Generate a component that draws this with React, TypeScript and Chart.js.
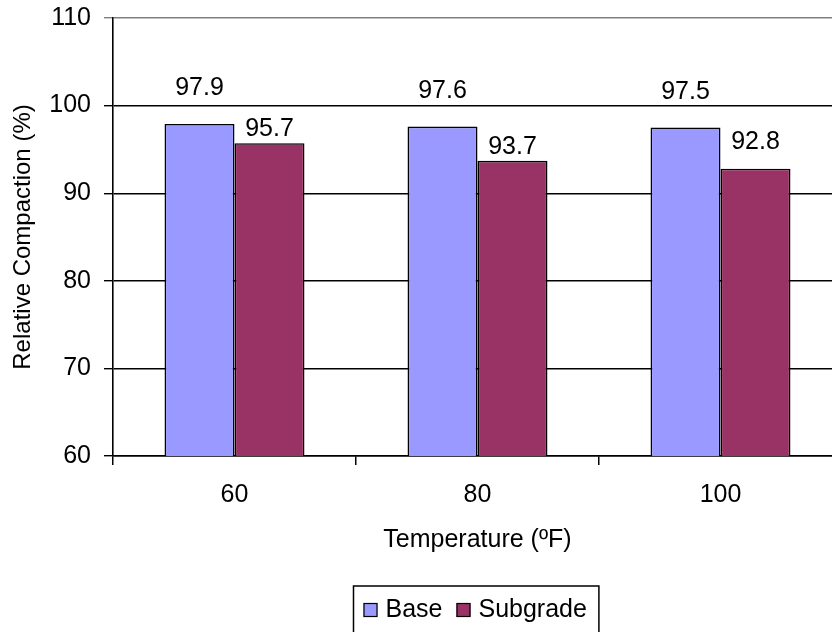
import React, { useEffect, useRef } from "react";
import { Chart, registerables } from "chart.js";

Chart.register(...registerables);

// ---- data ----
const categories = ["60", "80", "100"];
const seriesNames = ["Base", "Subgrade"];
const baseValues = [97.9, 97.6, 97.5];
const subgradeValues = [95.7, 93.7, 92.8];
const yTickValues = [60, 70, 80, 90, 100, 110];

// ---- styles ----
const FONT = '"Liberation Sans", Arial, Helvetica, sans-serif';
const FONT_SIZE = 25;
const COLORS = ["#9999FF", "#993366"];
// pixel lift of each value label baseline above its bar top (as placed in the original)
const LABEL_LIFT = [
  [29, 29, 29],
  [7, 7, 20],
];

export default function App() {
  const ref = useRef<HTMLCanvasElement>(null);

  useEffect(() => {
    const canvas = ref.current;
    if (!canvas) return;

    const labelPlugin = {
      id: "valueLabels",
      afterDatasetsDraw(chart: any) {
        const ctx = chart.ctx;
        ctx.save();
        ctx.font = `${FONT_SIZE}px ${FONT}`;
        ctx.fillStyle = "#000";
        ctx.textAlign = "center";
        ctx.textBaseline = "alphabetic";
        chart.data.datasets.forEach((ds: any, di: number) => {
          const meta = chart.getDatasetMeta(di);
          meta.data.forEach((el: any, i: number) => {
            const v = ds.data[i] as number;
            ctx.fillText(v.toFixed(1), el.x, el.y - LABEL_LIFT[di][i]);
          });
        });
        ctx.restore();
      },
    };

    const legendPlugin = {
      id: "boxLegend",
      afterDraw(chart: any) {
        const ctx = chart.ctx;
        const area = chart.chartArea;
        ctx.save();
        ctx.font = `${FONT_SIZE}px ${FONT}`;
        const sq = 14;
        const padL = 10;
        const gapSq = 8;
        const gapItem = 14;
        const padR = 12;
        const widths = chart.data.datasets.map((d: any) => ctx.measureText(d.label).width);
        let total = padL;
        widths.forEach((w: number, i: number) => {
          total += sq + gapSq + w + (i < widths.length - 1 ? gapItem : 0);
        });
        total += padR;
        const cx = (area.left + area.right) / 2 - 1.5;
        const left = Math.round(cx - total / 2) + 0.5;
        const top = 586;
        ctx.strokeStyle = "#000";
        ctx.lineWidth = 1.5;
        ctx.strokeRect(left, top, total, 70);
        let x = left + padL;
        const baseY = 617;
        chart.data.datasets.forEach((d: any, i: number) => {
          ctx.fillStyle = d.backgroundColor;
          ctx.fillRect(x, 603, sq, sq);
          ctx.lineWidth = 1.2;
          ctx.strokeStyle = "#000";
          ctx.strokeRect(x + 0.5, 603.5, sq - 1, sq - 1);
          x += sq + gapSq;
          ctx.fillStyle = "#000";
          ctx.textAlign = "left";
          ctx.textBaseline = "alphabetic";
          ctx.fillText(d.label, x, baseY);
          x += widths[i] + gapItem;
        });
        ctx.restore();
      },
    };

    const chart = new Chart(canvas, {
      type: "bar",
      data: {
        labels: categories,
        datasets: [
          {
            label: seriesNames[0],
            data: baseValues,
            backgroundColor: COLORS[0],
            borderColor: "#000",
            borderWidth: 1.6,
          },
          {
            label: seriesNames[1],
            data: subgradeValues,
            backgroundColor: COLORS[1],
            borderColor: "#000",
            borderWidth: 1.6,
          },
        ],
      },
      options: {
        responsive: false,
        animation: false,
        layout: { padding: { top: 18, right: 18, left: 0, bottom: 0 } },
        datasets: { bar: { categoryPercentage: 0.576, barPercentage: 1 } } as any,
        plugins: {
          legend: { display: false },
          tooltip: { enabled: false },
        },
        scales: {
          x: {
            offset: true,
            grid: {
              offset: true,
              drawOnChartArea: false,
              drawTicks: true,
              tickLength: 9,
              color: "#000",
              lineWidth: 1.5,
            },
            border: { display: true, color: "#000", width: 1.6 },
            ticks: {
              color: "#000",
              font: { family: FONT, size: FONT_SIZE },
              padding: 15,
              maxRotation: 0,
            },
            title: {
              display: true,
              text: "Temperature (ºF)",
              color: "#000",
              font: { family: FONT, size: FONT_SIZE },
              padding: { top: 0, bottom: 77 },
            },
            afterFit(scale: any) {
              scale.height = 176;
              scale.paddingLeft = 0;
              scale.paddingRight = 0;
            },
          },
          y: {
            min: 60,
            max: 110,
            afterBuildTicks(scale: any) {
              scale.ticks = yTickValues.map((v) => ({ value: v }));
            },
            grid: {
              drawTicks: true,
              tickLength: 9,
              color: (c: any) => (c.tick && c.tick.value === 110 ? "#808080" : "#000"),
              lineWidth: 1.4,
            },
            border: { display: true, color: "#000", width: 1.6 },
            ticks: {
              color: "#000",
              font: { family: FONT, size: FONT_SIZE },
              padding: 13,
            },
            title: {
              display: true,
              text: "Relative Compaction (%)",
              color: "#000",
              font: { family: FONT, size: 24 },
              padding: { top: 9, bottom: 0 },
            },
            afterFit(scale: any) {
              scale.width = 113;
              scale.paddingTop = 0;
              scale.paddingBottom = 0;
            },
          },
        },
      },
      plugins: [labelPlugin, legendPlugin],
    });

    return () => chart.destroy();
  }, []);

  return (
    <div
      style={{
        position: "fixed",
        left: 0,
        top: 0,
        width: 832,
        height: 632,
        overflow: "hidden",
        background: "#fff",
      }}
    >
      <canvas ref={ref} width={860} height={632} style={{ width: 860, height: 632, display: "block" }} />
    </div>
  );
}
